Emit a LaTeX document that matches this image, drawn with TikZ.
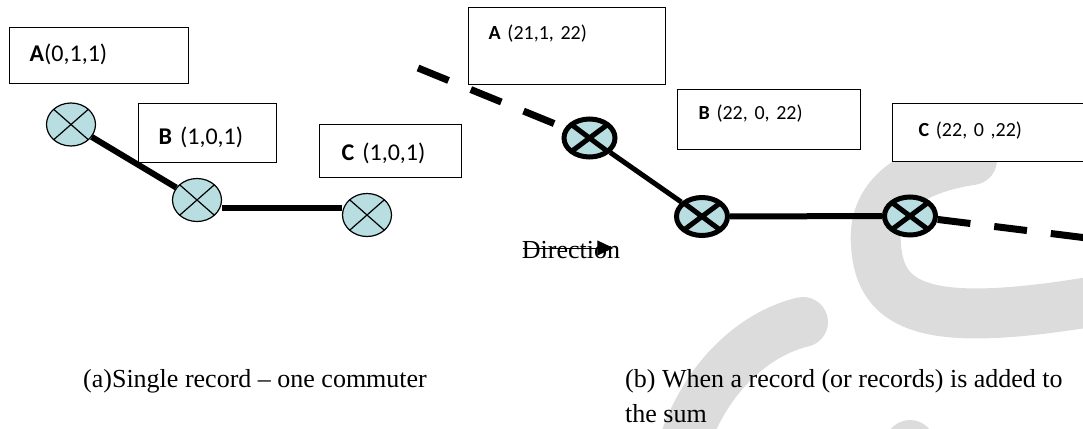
\documentclass[tikz,border=0pt]{standalone}
\usepackage{fontspec}
\setmainfont{Liberation Serif}
\newfontfamily\boxfont{Carlito}
\usetikzlibrary{shapes.geometric,arrows.meta}
\definecolor{swcyan}{RGB}{184,222,226}
\definecolor{wmgray}{RGB}{220,220,220}

\begin{document}
\begin{tikzpicture}[x=1pt, y=-1pt,
  box/.style={draw, fill=white, line width=1.3pt, anchor=north west, align=left,
              inner ysep=0pt, inner xsep=20pt},
  lbox/.style={box, font=\boxfont\fontsize{24}{28}\selectfont},
  rbox/.style={box, font=\boxfont\fontsize{20}{24}\selectfont},
  xmark/.style={path picture={\draw[line width=#1]
      (path picture bounding box.north west) -- (path picture bounding box.south east)
      (path picture bounding box.north east) -- (path picture bounding box.south west);}},
  sw/.style={ellipse, draw, fill=swcyan, inner sep=0pt, minimum width=49pt,
             minimum height=43pt, line width=1.2pt, xmark=1.2pt},
  swb/.style={ellipse, draw, fill=swcyan, inner sep=0pt, minimum width=51pt,
              minimum height=38pt, line width=5pt, xmark=5pt},
  link/.style={line width=6pt},
  dlink/.style={line width=7pt, dash pattern=on 33pt off 24pt},
  dirarrow/.style={line width=1pt, -{Triangle[length=16pt,width=15pt]}},
  wmark/.style={draw=wmgray, line width=50pt, line cap=round},
  caption/.style={font=\fontsize{26}{35}\selectfont, inner sep=0pt, align=left},
]
\useasboundingbox (0,0) rectangle (1083,428);
\clip (0,0) rectangle (1083,428);

% watermark
\draw[wmark] (972,160) .. controls (905,170) and (872,200) .. (876,245)
  .. controls (880,310) and (930,328) .. (1090,302);
\draw[wmark] (803,322) .. controls (760,332) and (710,370) .. (685,440);
\draw[wmark] (910,445) -- (910,450);

% (a) single record
\node[lbox, text width=139pt, text height=34pt, text depth=22pt] (recA) at (9,27) {\textbf{A}(0,1,1)};
\node[lbox, text width=98pt, text height=41pt, text depth=18pt] (recB) at (138,103) {\textbf{B} (1,0,1)};
\node[lbox, text width=98pt, text height=36pt, text depth=17pt, inner xsep=22pt] (recC) at (319,124) {\textbf{C} (1,0,1)};

\node[sw] (swA) at (71,124.5) {};
\node[sw] (swB) at (197,200) {};
\node[sw] (swC) at (367,215) {};

\draw[link] (swA) -- (swB);
\draw[link] ([yshift=-8pt]swB.east) -- ([yshift=7pt]swC.west);

% (b) record added to the sum
\node[rbox, text width=157pt, text height=32pt, text depth=45pt] (sumA) at (468,7) {\textbf{A} (21,1, 22)};
\node[rbox, text width=141pt, text height=30pt, text depth=30pt, inner xsep=21pt] (sumB) at (677,89) {\textbf{B} (22, 0, 22)};
\node[rbox, text width=146pt, text height=33pt, text depth=25pt, inner xsep=26pt] (sumC) at (892,103) {\textbf{C} (22, 0 ,22)};

\coordinate (inA) at (418,68);
\coordinate (outC) at (1095,239);
\node[swb] (bwA) at (589.5,138) {};
\node[swb] (bwB) at (702,216.5) {};
\node[swb] (bwC) at (910,216) {};

\draw[dlink] (inA) -- (bwA);
\draw[link, line width=5pt] (bwA) -- (bwB);
\draw[link] (bwB) -- (bwC);
\draw[dlink] (bwC) -- (outC);

\node[font=\fontsize{26}{30}\selectfont, inner sep=0pt] (dir) at (571,250) {Direction};
\draw[dirarrow] ([xshift=1pt,yshift=2pt]dir.west) -- ([xshift=-7pt,yshift=2pt]dir.east);

% captions
\node[caption, anchor=base west] (capA) at (83,387) {(a)Single record -- one commuter};
\node[caption, anchor=north west] (capB) at (625,369) {(b) When a record (or records) is added to\\the sum};
\end{tikzpicture}
\end{document}
